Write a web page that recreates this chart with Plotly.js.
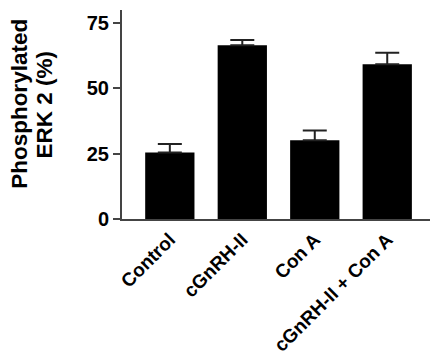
<!DOCTYPE html>
<html>
<head>
<meta charset="utf-8">
<script src="https://cdn.plot.ly/plotly-3.0.1.min.js"></script>
<style>
  html, body { margin: 0; padding: 0; background: #fff; }
  #chart { width: 432px; height: 357px; }
</style>
</head>
<body>
<div id="chart"></div>
<script>
// Treatment groups and measured phosphorylated ERK 2 (%)
const groups = ["Control", "cGnRH-II", "Con A", "cGnRH-II + Con A"];
const means = [25.5, 66.5, 30.1, 59.2];
const sem = [3.2, 2.0, 3.8, 4.4];
const yTicks = [0, 25, 50, 75];
const titleLines = ["Phosphorylated", "ERK 2 (%)"];

const font = { family: "Liberation Sans, Arial, sans-serif", color: "#000", weight: "bold" };

const trace = {
  type: "bar",
  x: groups,
  y: means,
  width: 0.68,
  marker: { color: "#000", line: { color: "#000", width: 0 } },
  error_y: {
    type: "data",
    array: sem,
    arrayminus: sem.map(() => 0),
    symmetric: false,
    color: "#222",
    thickness: 2,
    width: 12
  },
  hoverinfo: "none"
};

const layout = {
  width: 432,
  height: 357,
  margin: { l: 122, r: 2, t: 10, b: 138 },
  paper_bgcolor: "#fff",
  plot_bgcolor: "#fff",
  showlegend: false,
  font: font,
  xaxis: {
    type: "category",
    range: [-0.66, 3.59],
    showline: true,
    linecolor: "#444",
    linewidth: 2,
    ticks: "",
    tickangle: -45,
    tickfont: Object.assign({}, font, { size: 19 }),
    showgrid: false,
    zeroline: false,
    fixedrange: true
  },
  yaxis: {
    range: [0, 80],
    tickvals: yTicks,
    ticktext: yTicks.map(String),
    showline: true,
    linecolor: "#444",
    linewidth: 2,
    ticks: "outside",
    ticklen: 7,
    tickwidth: 2,
    tickcolor: "#444",
    tickfont: Object.assign({}, font, { size: 20 }),
    showgrid: false,
    zeroline: false,
    fixedrange: true
  },
  // two-line rotated axis title, one annotation per line
  annotations: titleLines.map((t, i) => ({
    text: t,
    xref: "paper",
    yref: "paper",
    x: [-0.335, -0.252][i],
    y: 0.55,
    xanchor: "center",
    yanchor: "middle",
    textangle: -90,
    showarrow: false,
    font: Object.assign({}, font, { size: 22.5 })
  }))
};

Plotly.newPlot("chart", [trace], layout, { displayModeBar: false, staticPlot: true });
</script>
</body>
</html>
